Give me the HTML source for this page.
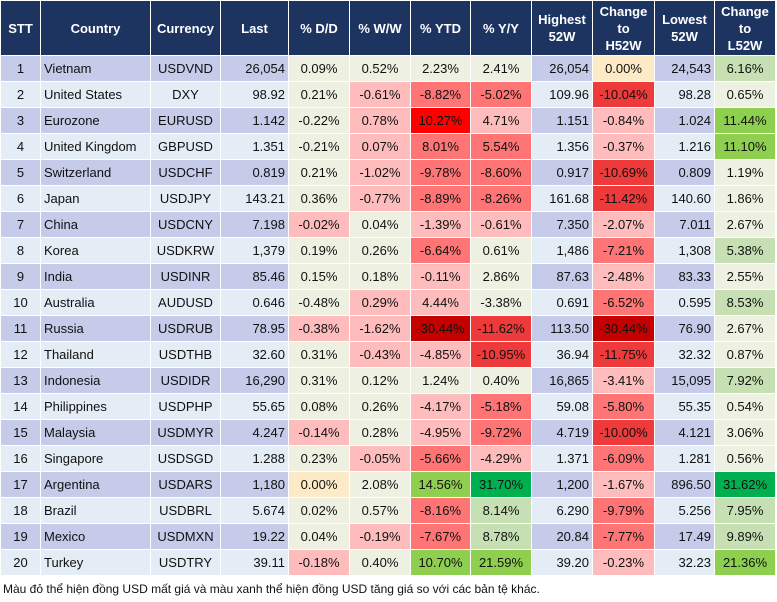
<!DOCTYPE html>
<html><head><meta charset="utf-8"><style>
body{margin:0;width:777px;height:602px;background:#fff;font-family:"Liberation Sans",Arial,sans-serif;overflow:hidden}
table{position:absolute;left:0;top:0;border-collapse:collapse;table-layout:fixed}
td,th{border:1px solid #fff;padding:0 3px;font-size:13px;color:#111;height:26px;box-sizing:border-box;white-space:nowrap;overflow:hidden}
th{background:#1d3461;color:#fff;font-weight:bold;height:55px;text-align:center;line-height:17px;font-size:13px}
.c{text-align:center}.r{text-align:right}.l{text-align:left}
.odd{background:#c5cbe9}.even{background:#e4ecf6}
.N{background:#eef0e2}.o{background:#fdebc8}.r1{background:#ffbcbc}.r2{background:#ff7474}.r3{background:#ee3a3a}.r4{background:#ff0000}.r5{background:#c40000}
.g1{background:#c6e0b4}.g2{background:#8fcf50}.g3{background:#00b050}
#note{position:absolute;left:3px;top:582px;font-size:12px;color:#111}
</style></head><body>
<table>
<colgroup><col style="width:40px"><col style="width:110px"><col style="width:70px"><col style="width:68px"><col style="width:61px"><col style="width:61px"><col style="width:60px"><col style="width:61px"><col style="width:61px"><col style="width:62px"><col style="width:60px"><col style="width:61px"></colgroup>
<thead><tr>
<th>STT</th>
<th>Country</th>
<th>Currency</th>
<th>Last</th>
<th>% D/D</th>
<th>% W/W</th>
<th>% YTD</th>
<th>% Y/Y</th>
<th>Highest<br>52W</th>
<th>Change<br>to<br>H52W</th>
<th>Lowest<br>52W</th>
<th>Change<br>to<br>L52W</th>
</tr></thead>
<tbody id="tb"></tbody></table>
<div id="note">Màu đỏ thể hiện đồng USD mất giá và màu xanh thể hiện đồng USD tăng giá so với các bản tệ khác.</div>
<script>
const countries=["Vietnam","United States","Eurozone","United Kingdom","Switzerland","Japan","China","Korea","India","Australia","Russia","Thailand","Indonesia","Philippines","Malaysia","Singapore","Argentina","Brazil","Mexico","Turkey"];
const currencies=["USDVND","DXY","EURUSD","GBPUSD","USDCHF","USDJPY","USDCNY","USDKRW","USDINR","AUDUSD","USDRUB","USDTHB","USDIDR","USDPHP","USDMYR","USDSGD","USDARS","USDBRL","USDMXN","USDTRY"];
const last=["26,054","98.92","1.142","1.351","0.819","143.21","7.198","1,379","85.46","0.646","78.95","32.60","16,290","55.65","4.247","1.288","1,180","5.674","19.22","39.11"];
const dd=["0.09%","0.21%","-0.22%","-0.21%","0.21%","0.36%","-0.02%","0.19%","0.15%","-0.48%","-0.38%","0.31%","0.31%","0.08%","-0.14%","0.23%","0.00%","0.02%","0.04%","-0.18%"];
const ww=["0.52%","-0.61%","0.78%","0.07%","-1.02%","-0.77%","0.04%","0.26%","0.18%","0.29%","-1.62%","-0.43%","0.12%","0.26%","0.28%","-0.05%","2.08%","0.57%","-0.19%","0.40%"];
const ytd=["2.23%","-8.82%","10.27%","8.01%","-9.78%","-8.89%","-1.39%","-6.64%","-0.11%","4.44%","-30.44%","-4.85%","1.24%","-4.17%","-4.95%","-5.66%","14.56%","-8.16%","-7.67%","10.70%"];
const yy=["2.41%","-5.02%","4.71%","5.54%","-8.60%","-8.26%","-0.61%","0.61%","2.86%","-3.38%","-11.62%","-10.95%","0.40%","-5.18%","-9.72%","-4.29%","31.70%","8.14%","8.78%","21.59%"];
const high=["26,054","109.96","1.151","1.356","0.917","161.68","7.350","1,486","87.63","0.691","113.50","36.94","16,865","59.08","4.719","1.371","1,200","6.290","20.84","39.20"];
const chH=["0.00%","-10.04%","-0.84%","-0.37%","-10.69%","-11.42%","-2.07%","-7.21%","-2.48%","-6.52%","-30.44%","-11.75%","-3.41%","-5.80%","-10.00%","-6.09%","-1.67%","-9.79%","-7.77%","-0.23%"];
const low=["24,543","98.28","1.024","1.216","0.809","140.60","7.011","1,308","83.33","0.595","76.90","32.32","15,095","55.35","4.121","1.281","896.50","5.256","17.49","32.23"];
const chL=["6.16%","0.65%","11.44%","11.10%","1.19%","1.86%","2.67%","5.38%","2.55%","8.53%","2.67%","0.87%","7.92%","0.54%","3.06%","0.56%","31.62%","7.95%","9.89%","21.36%"];
const shades=[
"N N N N o g1","N r1 r2 r2 r3 N","N r1 r4 r1 r1 g2","N r1 r2 r2 r1 g2","N r1 r2 r2 r3 N",
"N r1 r2 r2 r3 N","r1 N r1 r1 r1 N","N N r2 N r2 g1","N N r1 N r1 N","N r1 r1 N r2 g1",
"r1 r1 r5 r3 r5 N","N r1 r1 r3 r3 N","N N N N r1 g1","N N r1 r2 r2 N","r1 N r1 r2 r3 N",
"N r1 r2 r1 r2 N","o N g2 g3 r1 g3","N N r2 g1 r2 g1","N r1 r2 g1 r2 g1","r1 N g2 g2 r1 g2"];
const tb=document.getElementById('tb');
const names=["stt","country","currency","last","dd","ww","ytd","yy","highest","change-h52w","lowest","change-l52w"];
for(let i=0;i<countries.length;i++){
  const tr=document.createElement('tr');
  
  
  const base=i%2===0?'odd':'even';
  const sh=shades[i].split(' ');
  const vals=[String(i+1),countries[i],currencies[i],last[i],dd[i],ww[i],ytd[i],yy[i],high[i],chH[i],low[i],chL[i]];
  const cls=[base+' c',base+' l',base+' c',base+' r',sh[0]+' c',sh[1]+' c',sh[2]+' c',sh[3]+' c',base+' r',sh[4]+' c',base+' r',sh[5]+' c'];
  for(let j=0;j<vals.length;j++){
    const td=document.createElement('td');
    td.className=cls[j];
    td.textContent=vals[j];
    
    
    tr.appendChild(td);
  }
  tb.appendChild(tr);
}
</script>
</body></html>
